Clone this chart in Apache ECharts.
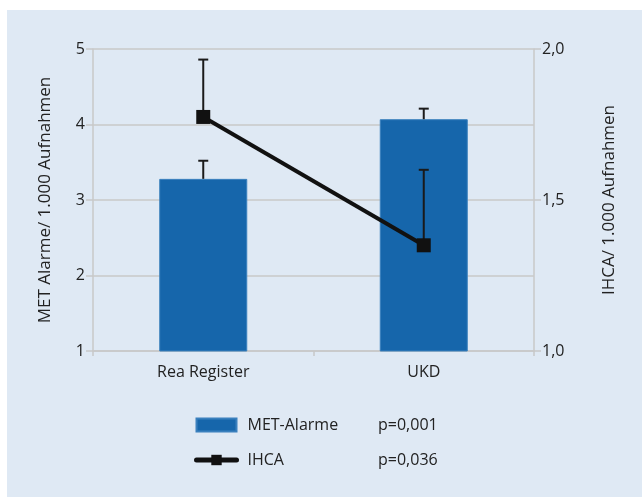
<!DOCTYPE html>
<html>
<head>
<meta charset="utf-8">
<script src="https://cdn.jsdelivr.net/npm/echarts@6/dist/echarts.min.js"></script>
<style>
  html, body { margin: 0; padding: 0; background: #ffffff; }
  #chart { position: absolute; left: 7px; top: 10px; width: 635px; height: 487px; background: #dfe9f4; }
</style>
</head>
<body>
<div id="chart"></div>
<script>
// Daten
const categories = ['Rea Register', 'UKD'];
const metValues = [3.28, 4.07];
const metUpper = [3.52, 4.21];
const ihcaValues = [1.775, 1.35];
const ihcaUpper = [1.965, 1.60];
const pValues = ['p=0,001', 'p=0,036'];

const textColor = '#222';
const gridColor = '#c8c8c8';
const font = 'Open Sans';

// Fehlerbalken: vom Mittelwert nach oben mit Querstrich
const errorBar = function (params, api) {
  const x = api.value(0);
  const p0 = api.coord([x, api.value(1)]);
  const p1 = api.coord([x, api.value(2)]);
  return {
    type: 'group',
    children: [
      { type: 'line', shape: { x1: p0[0], y1: p0[1], x2: p1[0], y2: p1[1] },
        style: { stroke: '#1a1a1a', lineWidth: 2 } },
      { type: 'line', shape: { x1: p1[0] - 5, y1: p1[1], x2: p1[0] + 5, y2: p1[1] },
        style: { stroke: '#1a1a1a', lineWidth: 2 } }
    ]
  };
};

const myChart = echarts.init(document.getElementById('chart'));
myChart.setOption({
  animation: false,
  textStyle: { fontFamily: font },
  grid: { left: 86, right: 108, top: 39, bottom: 146 },
  legend: {
    orient: 'vertical',
    left: 182,
    top: 402,
    itemWidth: 40,
    itemHeight: 13,
    itemGap: 19,
    textStyle: { fontSize: 16, color: textColor, fontFamily: font, padding: [0, 0, 0, 6] },
    data: [
      { name: 'MET-Alarme', icon: 'rect' },
      { name: 'IHCA', lineStyle: { width: 5, cap: 'round' } }
    ]
  },
  graphic: [
    { type: 'text', left: 371, top: 407, style: { text: pValues[0], fontSize: 16, fill: textColor, fontFamily: font } },
    { type: 'text', left: 371, top: 442, style: { text: pValues[1], fontSize: 16, fill: textColor, fontFamily: font } }
  ],
  xAxis: {
    type: 'category',
    data: categories,
    axisLine: { lineStyle: { color: gridColor, width: 1.5 } },
    axisTick: { show: true, length: 5, lineStyle: { color: gridColor, width: 1.5 } },
    axisLabel: { color: textColor, fontSize: 16, margin: 13 }
  },
  yAxis: [
    {
      type: 'value', min: 1, max: 5, interval: 1,
      name: 'MET Alarme/ 1.000 Aufnahmen',
      nameLocation: 'middle', nameGap: 39, nameRotate: 90,
      nameTextStyle: { color: textColor, fontSize: 17 },
      axisLine: { show: true, lineStyle: { color: gridColor, width: 1.5 } },
      axisTick: { show: true, length: 7, lineStyle: { color: gridColor, width: 1.5 } },
      axisLabel: { color: textColor, fontSize: 16, margin: 8 },
      splitLine: { lineStyle: { color: gridColor, width: 1.5 } }
    },
    {
      type: 'value', min: 1, max: 2, interval: 0.5,
      name: 'IHCA/ 1.000 Aufnahmen',
      nameLocation: 'middle', nameGap: 67, nameRotate: 90,
      nameTextStyle: { color: textColor, fontSize: 17 },
      axisLine: { show: true, lineStyle: { color: gridColor, width: 1.5 } },
      axisTick: { show: true, length: 7, lineStyle: { color: gridColor, width: 1.5 } },
      axisLabel: { color: textColor, fontSize: 16, margin: 8,
        formatter: function (v) { return v.toFixed(1).replace('.', ','); } },
      splitLine: { show: false }
    }
  ],
  series: [
    {
      name: 'MET-Alarme',
      type: 'bar',
      data: metValues,
      barWidth: 88,
      itemStyle: { color: '#1666ab', borderColor: '#3a80bd', borderWidth: 1 },
      z: 2
    },
    {
      type: 'custom',
      renderItem: errorBar,
      data: categories.map((c, i) => [i, metValues[i], metUpper[i]]),
      z: 3
    },
    {
      type: 'custom',
      yAxisIndex: 1,
      renderItem: errorBar,
      data: categories.map((c, i) => [i, ihcaValues[i], ihcaUpper[i]]),
      z: 4
    },
    {
      name: 'IHCA',
      type: 'line',
      yAxisIndex: 1,
      data: ihcaValues,
      symbol: 'rect',
      symbolSize: 14,
      lineStyle: { color: '#111', width: 4 },
      itemStyle: { color: '#111' },
      z: 5
    }
  ]
});
</script>
</body>
</html>
